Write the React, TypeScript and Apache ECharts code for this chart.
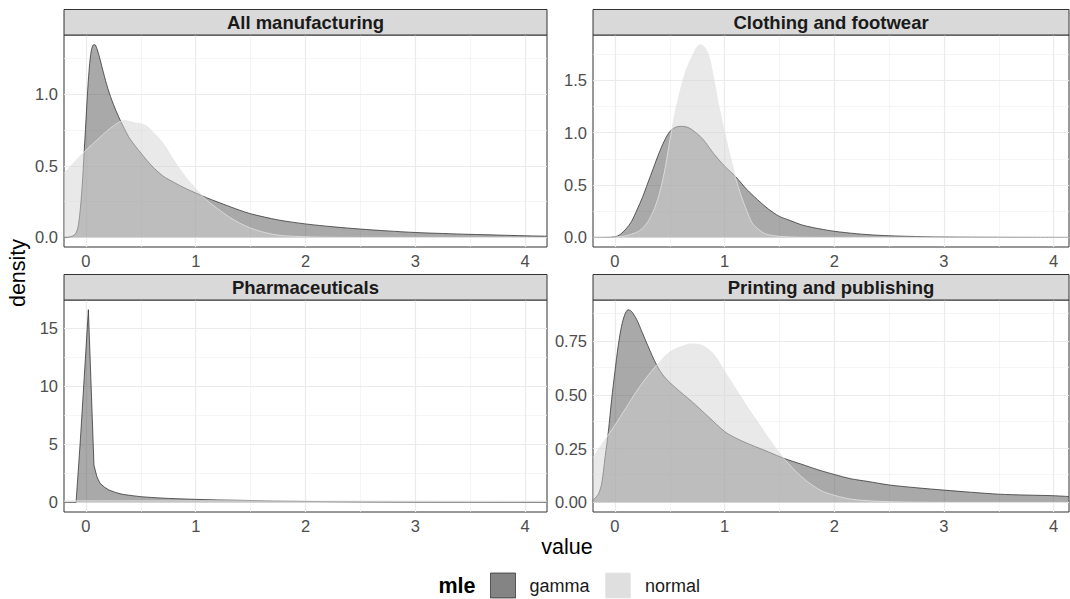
import { useEffect, useRef } from "react";
import * as echarts from "echarts";

// ---------- data ----------
const panelTitles = ["All manufacturing", "Clothing and footwear", "Pharmaceuticals", "Printing and publishing"];
const seriesNames = ["gamma", "normal"];

const xMajor = [0, 1, 2, 3, 4];
const xMinor = [0.5, 1.5, 2.5, 3.5];

const yMajorAll = [0, 0.5, 1.0];
const yMinorAll = [0.25, 0.75, 1.25];
const yMajorCloth = [0, 0.5, 1.0, 1.5];
const yMinorCloth = [0.25, 0.75, 1.25, 1.75];
const yMajorPharma = [0, 5, 10, 15];
const yMinorPharma = [2.5, 7.5, 12.5];
const yMajorPrint = [0, 0.25, 0.5, 0.75];
const yMinorPrint = [0.125, 0.375, 0.625, 0.875];

// All manufacturing
const allGammaX = [-0.2, -0.15, -0.1, -0.07, -0.04, -0.02, 0, 0.02, 0.04, 0.06, 0.08, 0.1, 0.13, 0.16, 0.2, 0.25, 0.3, 0.35, 0.4, 0.5, 0.6, 0.7, 0.8, 0.9, 1.0, 1.1, 1.2, 1.3, 1.4, 1.5, 1.75, 2.0, 2.25, 2.5, 2.75, 3.0, 3.25, 3.5, 3.75, 4.0, 4.2];
const allGammaY = [0, 0.003, 0.02, 0.08, 0.3, 0.55, 0.82, 1.08, 1.26, 1.34, 1.348, 1.32, 1.24, 1.15, 1.04, 0.93, 0.84, 0.76, 0.69, 0.59, 0.5, 0.43, 0.385, 0.345, 0.31, 0.277, 0.247, 0.218, 0.19, 0.165, 0.122, 0.094, 0.074, 0.058, 0.045, 0.034, 0.027, 0.021, 0.016, 0.011, 0.008];
const allNormalX = [-0.2, -0.1, 0, 0.1, 0.2, 0.3, 0.35, 0.4, 0.45, 0.5, 0.55, 0.6, 0.7, 0.8, 0.9, 1.0, 1.1, 1.2, 1.3, 1.4, 1.5, 1.6, 1.7, 1.8, 2.0, 2.2, 2.5, 4.2];
const allNormalY = [0.447, 0.53, 0.61, 0.68, 0.75, 0.805, 0.818, 0.81, 0.8, 0.795, 0.78, 0.745, 0.66, 0.54, 0.43, 0.34, 0.26, 0.2, 0.145, 0.1, 0.065, 0.04, 0.022, 0.012, 0.004, 0.001, 0, 0];

// Clothing and footwear
const clothGammaX = [-0.2, -0.1, 0, 0.05, 0.1, 0.15, 0.2, 0.25, 0.3, 0.35, 0.4, 0.45, 0.5, 0.55, 0.6, 0.65, 0.7, 0.8, 0.9, 1.0, 1.1, 1.2, 1.3, 1.4, 1.5, 1.6, 1.7, 1.8, 1.9, 2.0, 2.2, 2.4, 2.6, 2.8, 3.0, 3.5, 4.0, 4.14];
const clothGammaY = [0, 0, 0.005, 0.03, 0.08, 0.15, 0.26, 0.38, 0.52, 0.66, 0.8, 0.92, 1.01, 1.05, 1.06, 1.055, 1.03, 0.94, 0.8, 0.68, 0.58, 0.46, 0.36, 0.27, 0.2, 0.16, 0.12, 0.095, 0.075, 0.058, 0.035, 0.02, 0.012, 0.007, 0.004, 0.001, 0, 0];
const clothNormalX = [-0.2, 0, 0.1, 0.2, 0.25, 0.3, 0.35, 0.4, 0.45, 0.5, 0.55, 0.6, 0.65, 0.7, 0.75, 0.78, 0.82, 0.86, 0.9, 0.95, 1.0, 1.05, 1.1, 1.15, 1.2, 1.25, 1.3, 1.35, 1.4, 1.5, 1.6, 1.7, 2.0, 3.0, 4.14];
const clothNormalY = [0, 0.003, 0.015, 0.05, 0.085, 0.15, 0.25, 0.4, 0.62, 0.92, 1.2, 1.42, 1.6, 1.72, 1.82, 1.84, 1.81, 1.72, 1.52, 1.24, 1.0, 0.78, 0.57, 0.4, 0.26, 0.14, 0.085, 0.045, 0.025, 0.01, 0.004, 0.001, 0, 0.002, 0];

// Pharmaceuticals
const pharmaGammaX = [-0.2, -0.09, -0.05, 0, 0.022, 0.04, 0.073, 0.1, 0.128, 0.17, 0.21, 0.27, 0.335, 0.42, 0.5, 0.6, 0.75, 0.9, 1.0, 1.2, 1.45, 1.7, 2.0, 2.5, 3.0, 3.5, 4.0, 4.2];
const pharmaGammaY = [0, 0, 5.5, 13.2, 16.6, 11.9, 3.2, 2.2, 1.64, 1.3, 1.06, 0.85, 0.69, 0.58, 0.49, 0.42, 0.34, 0.29, 0.26, 0.21, 0.17, 0.12, 0.08, 0.045, 0.025, 0.015, 0.01, 0.008];
const pharmaNormalX = [-0.2, 0, 0.5, 1, 1.5, 2, 2.5, 3, 3.5, 4, 4.2];
const pharmaNormalY = [0.13, 0.132, 0.133, 0.132, 0.13, 0.126, 0.121, 0.115, 0.108, 0.1, 0.097];

// Printing and publishing
const printGammaX = [-0.2, -0.15, -0.12, -0.09, -0.06, -0.03, 0, 0.03, 0.06, 0.09, 0.12, 0.15, 0.2, 0.25, 0.3, 0.38, 0.45, 0.55, 0.7, 0.85, 1.0, 1.1, 1.23, 1.4, 1.54, 1.7, 1.85, 2.0, 2.15, 2.3, 2.5, 2.75, 3.0, 3.25, 3.5, 3.75, 4.0, 4.14];
const printGammaY = [0.01, 0.04, 0.09, 0.21, 0.33, 0.48, 0.61, 0.73, 0.82, 0.875, 0.897, 0.89, 0.85, 0.79, 0.73, 0.64, 0.585, 0.535, 0.47, 0.4, 0.33, 0.3, 0.27, 0.235, 0.205, 0.178, 0.152, 0.13, 0.11, 0.098, 0.081, 0.068, 0.057, 0.047, 0.038, 0.034, 0.031, 0.027];
const printNormalX = [-0.2, -0.1, 0, 0.1, 0.2, 0.3, 0.4, 0.5, 0.6, 0.7, 0.8, 0.9, 1.0, 1.1, 1.2, 1.3, 1.4, 1.5, 1.6, 1.7, 1.8, 1.9, 2.0, 2.1, 2.2, 2.4, 2.6, 3.0, 4.14];
const printNormalY = [0.208, 0.285, 0.36, 0.44, 0.52, 0.59, 0.65, 0.7, 0.725, 0.738, 0.73, 0.69, 0.61, 0.53, 0.45, 0.375, 0.3, 0.23, 0.17, 0.12, 0.08, 0.05, 0.033, 0.02, 0.012, 0.005, 0.002, 0, 0];

// ---------- chart ----------
const FONT = "'Liberation Sans', Arial, Helvetica, sans-serif";
const GAMMA_FILL = "rgba(80,80,80,0.7)";
const GAMMA_LINE = "rgba(40,40,40,0.9)";
const NORMAL_FILL = "rgba(210,210,210,0.7)";
const NORMAL_LINE = "rgba(230,230,230,0.95)";

const zip = (xs: number[], ys: number[]) => xs.map((x, i) => [x, ys[i]]);

function buildOption() {
  const panels = [
    { title: panelTitles[0], left: 64, top: 35, width: 483, height: 212, xMin: -0.2, xMax: 4.2, yMin: -0.0674, yMax: 1.415, yMajor: yMajorAll, yMinor: yMinorAll, dec: 1, gamma: zip(allGammaX, allGammaY), normal: zip(allNormalX, allNormalY), smoothGamma: true },
    { title: panelTitles[1], left: 593, top: 35, width: 476, height: 212, xMin: -0.2, xMax: 4.14, yMin: -0.092, yMax: 1.932, yMajor: yMajorCloth, yMinor: yMinorCloth, dec: 1, gamma: zip(clothGammaX, clothGammaY), normal: zip(clothNormalX, clothNormalY), smoothGamma: true },
    { title: panelTitles[2], left: 64, top: 300, width: 483, height: 212, xMin: -0.2, xMax: 4.2, yMin: -0.83, yMax: 17.43, yMajor: yMajorPharma, yMinor: yMinorPharma, dec: 0, gamma: zip(pharmaGammaX, pharmaGammaY), normal: zip(pharmaNormalX, pharmaNormalY), smoothGamma: false },
    { title: panelTitles[3], left: 593, top: 300, width: 476, height: 212, xMin: -0.2, xMax: 4.14, yMin: -0.0449, yMax: 0.9426, yMajor: yMajorPrint, yMinor: yMinorPrint, dec: 2, gamma: zip(printGammaX, printGammaY), normal: zip(printNormalX, printNormalY), smoothGamma: true },
  ];

  const grid: any[] = [];
  const xAxis: any[] = [];
  const yAxis: any[] = [];
  const series: any[] = [];
  const graphic: any[] = [];

  panels.forEach((p, i) => {
    grid.push({ left: p.left, top: p.top, width: p.width, height: p.height, show: true, borderColor: "#333333", borderWidth: 1, backgroundColor: "#ffffff", containLabel: false });
    xAxis.push({
      type: "value", gridIndex: i, min: p.xMin, max: p.xMax,
      axisLine: { show: false },
      axisTick: { show: true, customValues: xMajor, length: 4, lineStyle: { color: "#333333", width: 1 } },
      axisLabel: { customValues: xMajor, color: "#4D4D4D", fontSize: 16.5, fontFamily: FONT, margin: 5, formatter: (v: number) => String(v) },
      splitLine: { show: false },
    });
    yAxis.push({
      type: "value", gridIndex: i, min: p.yMin, max: p.yMax,
      axisLine: { show: false },
      axisTick: { show: true, customValues: p.yMajor, length: 4, lineStyle: { color: "#333333", width: 1 } },
      axisLabel: { customValues: p.yMajor, color: "#4D4D4D", fontSize: 16.5, fontFamily: FONT, margin: 6, formatter: (v: number) => v.toFixed(p.dec) },
      splitLine: { show: false },
    });
    // grid lines
    series.push({
      type: "line", xAxisIndex: i, yAxisIndex: i, data: [], silent: true, z: 1,
      markLine: {
        silent: true, symbol: ["none", "none"], label: { show: false }, z: 1, animation: false,
        data: [
          ...xMinor.map((v) => ({ xAxis: v, lineStyle: { color: "#F0F0F0", width: 0.7, type: "solid" } })),
          ...p.yMinor.map((v) => ({ yAxis: v, lineStyle: { color: "#F0F0F0", width: 0.7, type: "solid" } })),
          ...xMajor.map((v) => ({ xAxis: v, lineStyle: { color: "#EBEBEB", width: 1.2, type: "solid" } })),
          ...p.yMajor.map((v) => ({ yAxis: v, lineStyle: { color: "#EBEBEB", width: 1.2, type: "solid" } })),
        ],
      },
    });
    series.push({
      name: seriesNames[0], type: "line", xAxisIndex: i, yAxisIndex: i, data: p.gamma, z: 2,
      showSymbol: false, symbol: "none", smooth: p.smoothGamma ? 0.3 : false,
      lineStyle: { color: GAMMA_LINE, width: 0.8 }, areaStyle: { color: GAMMA_FILL, origin: 0 },
      clip: true,
    });
    series.push({
      name: seriesNames[1], type: "line", xAxisIndex: i, yAxisIndex: i, data: p.normal, z: 3,
      showSymbol: false, symbol: "none", smooth: 0.3,
      lineStyle: { color: NORMAL_LINE, width: 0.8 }, areaStyle: { color: NORMAL_FILL, origin: 0 },
      clip: true,
    });
    // strip
    graphic.push({
      type: "rect", shape: { x: p.left, y: p.top - 25.5, width: p.width, height: 25.5 },
      style: { fill: "#D9D9D9", stroke: "#333333", lineWidth: 1 }, z: 10,
    });
    graphic.push({
      type: "text", x: p.left + p.width / 2, y: p.top - 12.5, z: 11,
      style: { text: p.title, fill: "#1A1A1A", font: `bold 18.5px ${FONT}`, align: "center", verticalAlign: "middle" },
    });
  });

  // axis titles
  graphic.push({ type: "text", x: 567, y: 547, style: { text: "value", fill: "#000000", font: `21.5px ${FONT}`, align: "center", verticalAlign: "middle" } });
  graphic.push({ type: "text", x: 18, y: 273, rotation: Math.PI / 2, style: { text: "density", fill: "#000000", font: `21.5px ${FONT}`, align: "center", verticalAlign: "middle" } });

  // legend
  graphic.push({ type: "text", x: 438.5, y: 586, style: { text: "mle", fill: "#000000", font: `bold 21.5px ${FONT}`, align: "left", verticalAlign: "middle" } });
  graphic.push({ type: "rect", shape: { x: 490.5, y: 573, width: 25, height: 25 }, style: { fill: GAMMA_FILL, stroke: GAMMA_LINE, lineWidth: 0.8 } });
  graphic.push({ type: "text", x: 529.5, y: 586, style: { text: seriesNames[0], fill: "#1A1A1A", font: `18px ${FONT}`, align: "left", verticalAlign: "middle" } });
  graphic.push({ type: "rect", shape: { x: 605.5, y: 573, width: 25, height: 25 }, style: { fill: NORMAL_FILL, stroke: NORMAL_LINE, lineWidth: 0.8 } });
  graphic.push({ type: "text", x: 645, y: 586, style: { text: seriesNames[1], fill: "#1A1A1A", font: `18px ${FONT}`, align: "left", verticalAlign: "middle" } });

  return {
    animation: false,
    backgroundColor: "#ffffff",
    textStyle: { fontFamily: FONT },
    grid, xAxis, yAxis, series, graphic,
  };
}

export default function App() {
  const ref = useRef<HTMLDivElement>(null);
  useEffect(() => {
    if (!ref.current) return;
    const chart = echarts.init(ref.current, null, { renderer: "svg" });
    chart.setOption(buildOption() as any);
    return () => chart.dispose();
  }, []);
  return <div ref={ref} style={{ position: "absolute", left: 0, top: 0, width: 1070, height: 599 }} />;
}
